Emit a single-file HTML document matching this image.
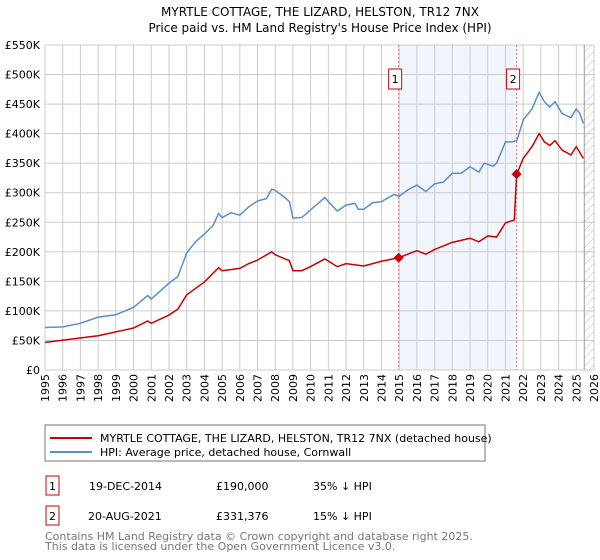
<!DOCTYPE html>
<html><head><meta charset="utf-8"><style>
body{margin:0;background:#fff;font-family:"DejaVu Sans","Liberation Sans",sans-serif;}
svg{display:block}
</style></head><body>
<svg id="c" width="600" height="560" xmlns="http://www.w3.org/2000/svg">
<defs><pattern id="hatch" width="6" height="6" patternUnits="userSpaceOnUse" patternTransform="rotate(45)"><line x1="0" y1="0" x2="0" y2="6" stroke="#bbb" stroke-width="1"/></pattern></defs>
<text x="320" y="16" text-anchor="middle" font-size="12">MYRTLE COTTAGE, THE LIZARD, HELSTON, TR12 7NX</text>
<text x="320" y="32" text-anchor="middle" font-size="12">Price paid vs. HM Land Registry's House Price Index (HPI)</text>
<g id="grid"></g><g id="marks"></g>
<rect x="45" y="425" width="440" height="36" fill="#fff" stroke="#777"/>
<line x1="50" y1="438" x2="92" y2="438" stroke="#cc0000" stroke-width="2"/>
<text x="100" y="442" font-size="11">MYRTLE COTTAGE, THE LIZARD, HELSTON, TR12 7NX (detached house)</text>
<line x1="50" y1="452" x2="92" y2="452" stroke="#5b8fd0" stroke-width="2"/>
<text x="100" y="456" font-size="11">HPI: Average price, detached house, Cornwall</text>
<g font-size="11">
<rect x="46" y="476" width="13" height="19" fill="#fff" stroke="#cc0000"/><text x="52.5" y="490" text-anchor="middle">1</text>
<text x="89" y="490">19-DEC-2014</text><text x="216" y="490">£190,000</text><text x="313" y="490">35% ↓ HPI</text>
<rect x="46" y="506" width="13" height="19" fill="#fff" stroke="#cc0000"/><text x="52.5" y="520" text-anchor="middle">2</text>
<text x="88" y="520">20-AUG-2021</text><text x="216" y="520">£331,376</text><text x="313" y="520">15% ↓ HPI</text>
</g>
<text x="45" y="540" font-size="11" fill="#777">Contains HM Land Registry data © Crown copyright and database right 2025.</text>
<text x="45" y="550" font-size="11" fill="#777">This data is licensed under the Open Government Licence v3.0.</text>
</svg>
<script>
const yTicks=[0,50,100,150,200,250,300,350,400,450,500,550];
const yTickLabels=["£0","£50K","£100K","£150K","£200K","£250K","£300K","£350K","£400K","£450K","£500K","£550K"];
const years=[1995,1996,1997,1998,1999,2000,2001,2002,2003,2004,2005,2006,2007,2008,2009,2010,2011,2012,2013,2014,2015,2016,2017,2018,2019,2020,2021,2022,2023,2024,2025,2026];
const hpiT=[1995,1996,1997,1998,1999,2000,2000.8,2001,2002,2002.5,2003,2003.5,2004,2004.5,2004.8,2005,2005.5,2006,2006.5,2007,2007.5,2007.8,2008,2008.5,2008.8,2009,2009.5,2010,2010.5,2010.8,2011,2011.5,2012,2012.5,2012.7,2013,2013.5,2014,2014.7,2015,2015.5,2016,2016.5,2017,2017.5,2018,2018.5,2019,2019.5,2019.8,2020.3,2020.5,2021,2021.4,2021.65,2022,2022.5,2022.9,2023.2,2023.5,2023.8,2024.2,2024.7,2025,2025.2,2025.4];
const hpiV=[72,73,79,89.5,93.5,106,126,120,147,158,198,217,230,245,265,258,266,262,276,286,290,306,304,293,285,257,258,271,284,292,285,269,279,282,272,272,283,285,297,294,305,313,302,315,318,333,333,344,335,350,345,350,386,386,389,423,442,470,454,445,454,434,427,442,434,417];
const redT=[1995,1998,2000,2000.8,2001,2002,2002.5,2003,2004,2004.8,2005,2006,2006.5,2007,2007.8,2008,2008.8,2009,2009.5,2010,2010.8,2011.5,2012,2013,2014,2014.97,2016,2016.5,2017,2018,2019,2019.5,2020,2020.5,2021,2021.5,2021.63,2022,2022.5,2022.9,2023.2,2023.5,2023.8,2024.2,2024.7,2025,2025.4];
const redV=[46.7,58,71,83,79,93,103,127,149,173,168,172,180,186,200,195,185,168,168,175,188,175,180,176,184,190,202,196,204,216,223,217,227,225,249,254,331,358,378,400,386,380,388,372,364,378,358];
const saleT=[2014.97,2021.63];
const saleV=[190,331.376];
const saleLabels=["1","2"];
const dataEnd=2025.45;
const X0=45,X1=594,Y0=370,Y1=45;
const xs=t=>X0+(t-1995)/(2026-1995)*(X1-X0);
const ys=v=>Y0-v/550*(Y0-Y1);
const NS="http://www.w3.org/2000/svg";
function mk(tag,at,parent){const e=document.createElementNS(NS,tag);for(const k in at)e.setAttribute(k,at[k]);parent.appendChild(e);return e;}
const grid=document.getElementById('grid'),marks=document.getElementById('marks');
let r=mk('rect',{x:xs(saleT[0]),y:Y1,width:xs(saleT[1])-xs(saleT[0]),height:Y0-Y1,fill:'#eef3fc',opacity:0.8},grid);


yTicks.forEach((v,i)=>{
 const l=mk('line',{x1:X0,x2:X1,y1:ys(v),y2:ys(v),stroke:'#ccc'},grid);
 
 
 const t=mk('text',{x:X0-5,y:ys(v)+4,'text-anchor':'end','font-size':11},grid);t.textContent=yTickLabels[i];
 
 
});
years.forEach(y=>{
 const l=mk('line',{x1:xs(y),x2:xs(y),y1:Y1,y2:Y0,stroke:'#ccc'},grid);
 
 
 const t=mk('text',{x:0,y:0,'text-anchor':'end','font-size':11,transform:`translate(${xs(y)+4},${Y0+4}) rotate(-90)`},grid);t.textContent=y;
 
 
});
const h=mk('rect',{x:xs(dataEnd),y:Y1,width:X1-xs(dataEnd),height:Y0-Y1,fill:'url(#hatch)'},grid);


const el=mk('line',{x1:xs(dataEnd),x2:xs(dataEnd),y1:Y1,y2:Y0,stroke:'#999'},grid);


saleT.forEach((t,i)=>{
 const l=mk('line',{x1:xs(t),x2:xs(t),y1:Y1,y2:Y0,stroke:'#f07070','stroke-dasharray':'2,2'},marks);
 
 
 const b=mk('rect',{x:xs(t)-10,y:69,width:13,height:20,fill:'#fff',stroke:'#cc0000'},marks);
 
 
 const tx=mk('text',{x:xs(t)-3.5,y:83,'text-anchor':'middle','font-size':11},marks);tx.textContent=saleLabels[i];
 
 
});
function line(T,V,color,name){
 const p=mk('polyline',{points:T.map((t,i)=>xs(t)+','+ys(V[i])).join(' '),fill:'none',stroke:color,'stroke-width':1.5},marks);
 
 
}
line(hpiT,hpiV,'#5b8fd0','hpi-line');
line(redT,redV,'#cc0000','property-line');
saleT.forEach((t,i)=>{
 const d=mk('polygon',{points:`${xs(t)},${ys(saleV[i])-5} ${xs(t)+5},${ys(saleV[i])} ${xs(t)},${ys(saleV[i])+5} ${xs(t)-5},${ys(saleV[i])}`,fill:'#cc0000'},marks);
 
 
});
</script>
</body></html>
